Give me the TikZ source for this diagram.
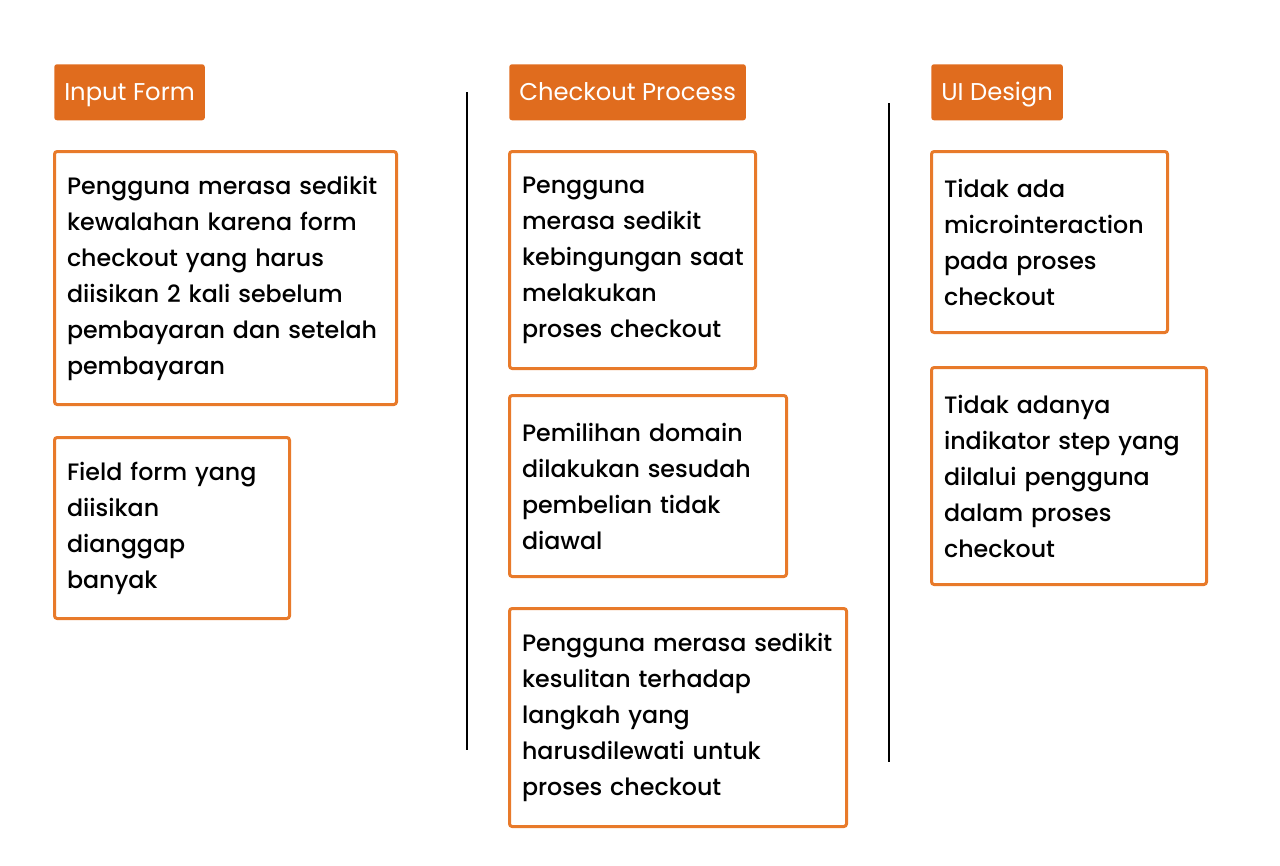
\documentclass[tikz,border=0pt]{standalone}
\usepackage{fontspec}
\setmainfont{Poppins Medium}
\newfontfamily\headfont{Poppins}
\usetikzlibrary{positioning}
\definecolor{headOrange}{HTML}{E06C1E}
\definecolor{boxOrange}{HTML}{E87A2A}
\begin{document}
\begin{tikzpicture}
        [x=0.75pt, y=-0.75pt,
        head/.style={fill=headOrange, text=white, rounded corners=2, anchor=north west,
            minimum height=56*0.75pt, inner xsep=10*0.75pt, text height=12.6pt, text depth=0pt,
            font=\headfont\fontsize{18.2pt}{27pt}\selectfont},
        card/.style={draw=boxOrange, line width=2.25pt, rounded corners=2, anchor=north west,
            align=left, inner xsep=12.5*0.75pt, font=\fontsize{17.8pt}{27pt}\selectfont},
        sep/.style={line width=1.5pt}]
        \useasboundingbox (0,0) rectangle (1280,865);
        % column headers
        \node[head] (H1) at (54,64) {Input Form};
        \node[head] (H2) at (509,64) {Checkout Process};
        \node[head] (H3) at (931,64) {UI Design};

        % input form
        \node[card, text width=317*0.75pt, minimum height=253*0.75pt] (A) at (53,150)
            {Pengguna merasa sedikit\\kewalahan karena form\\checkout yang harus\\diisikan 2 kali sebelum\\pembayaran dan setelah\\pembayaran};
        \node[card, text width=210*0.75pt, minimum height=181*0.75pt] (B) at (53,436)
            {Field form yang\\diisikan\\dianggap\\banyak};

        % checkout process
        \node[card, text width=221*0.75pt, minimum height=217*0.75pt] (C) at (508,150)
            {Pengguna\\merasa sedikit\\kebingungan~saat\\melakukan\\proses checkout};
        \node[card, text width=252*0.75pt, minimum height=181*0.75pt] (D) at (508,394)
            {Pemilihan domain\\dilakukan sesudah\\pembelian tidak\\diawal};
        \node[card, text width=312*0.75pt, minimum height=218*0.75pt] (E) at (508,607)
            {Pengguna merasa sedikit\\kesulitan terhadap\\langkah yang\\harusdilewati untuk\\proses checkout};

        % ui design
        \node[card, text width=211*0.75pt, minimum height=181*0.75pt] (F) at (930,150)
            {Tidak ada\\microinteraction\\pada proses\\checkout};
        \node[card, text width=250*0.75pt, minimum height=217*0.75pt] (G) at (930,366)
            {Tidak adanya\\indikator step yang\\dilalui pengguna\\dalam proses\\checkout};

        % separators
        \coordinate (s1t) at (467,92);
        \coordinate (s1b) at (467,750);
        \coordinate (s2t) at (889,103);
        \coordinate (s2b) at (889,762);
        \draw[sep] (s1t) -- (s1b);
        \draw[sep] (s2t) -- (s2b);
    \end{tikzpicture}
\end{document}
